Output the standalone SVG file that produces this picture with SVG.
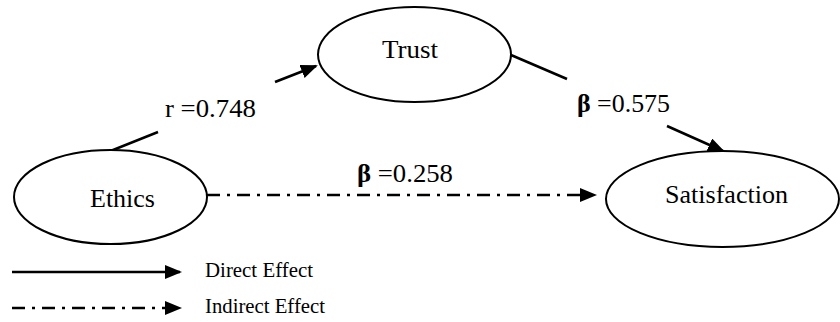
<svg xmlns="http://www.w3.org/2000/svg" width="840" height="322" viewBox="0 0 840 322">
<style>
.node{fill:#fff;stroke:#000;stroke-width:2}
.lbl{font-family:"Liberation Serif","Times New Roman",serif;font-size:25px;fill:#000}
.leg{font-family:"Liberation Serif","Times New Roman",serif;font-size:20px;fill:#000}
.ln{stroke:#000;stroke-width:2.5;fill:none}
.dd{stroke-dasharray:13 7 3 7}
</style>
<defs>
<marker id="ah" markerUnits="userSpaceOnUse" viewBox="0 0 17 14" refX="15" refY="7" markerWidth="17" markerHeight="14" orient="auto">
<path d="M0,0 L17,7 L0,14 z" fill="#000"/>
</marker>
</defs>
<rect width="840" height="322" fill="#fff"/>
<g id="connectors">
<line class="ln" x1="108" y1="152" x2="158" y2="132"/>
<line class="ln" x1="275" y1="82" x2="316" y2="66" marker-end="url(#ah)"/>
<line class="ln" x1="511" y1="55" x2="567" y2="79"/>
<line class="ln" x1="667" y1="126" x2="723" y2="151" marker-end="url(#ah)"/>
<line class="ln dd" x1="207" y1="195" x2="595" y2="195" marker-end="url(#ah)"/>
<text class="lbl" font-family="Liberation Serif, serif" x="165" y="117" textLength="91" lengthAdjust="spacingAndGlyphs">r =0.748</text>
<text class="lbl" font-family="Liberation Serif, serif" x="577" y="112" textLength="93" lengthAdjust="spacingAndGlyphs"><tspan font-weight="bold">β</tspan> =0.575</text>
<text class="lbl" font-family="Liberation Serif, serif" x="357" y="182" textLength="96" lengthAdjust="spacingAndGlyphs"><tspan font-weight="bold">β</tspan> =0.258</text>
</g>
<g id="trust">
<ellipse class="node" cx="414.5" cy="54.5" rx="96.5" ry="47.5"/>
<text class="lbl" font-family="Liberation Serif, serif" x="382" y="58" textLength="56" lengthAdjust="spacingAndGlyphs">Trust</text>
</g>
<g id="ethics">
<ellipse class="node" cx="110.5" cy="197" rx="96.5" ry="47"/>
<text class="lbl" font-family="Liberation Serif, serif" x="90" y="207" textLength="65" lengthAdjust="spacingAndGlyphs">Ethics</text>
</g>
<g id="satisfaction">
<ellipse class="node" cx="722.5" cy="199" rx="116.5" ry="48"/>
<text class="lbl" font-family="Liberation Serif, serif" x="665" y="203" textLength="123" lengthAdjust="spacingAndGlyphs">Satisfaction</text>
</g>
<g id="legend">
<line class="ln" x1="12" y1="272" x2="180" y2="272" marker-end="url(#ah)"/>
<text class="leg" font-family="Liberation Serif, serif" x="205" y="277" textLength="108" lengthAdjust="spacingAndGlyphs">Direct Effect</text>
<line class="ln dd" x1="12" y1="308" x2="180" y2="308" marker-end="url(#ah)"/>
<text class="leg" font-family="Liberation Serif, serif" x="205" y="313" textLength="120" lengthAdjust="spacingAndGlyphs">Indirect Effect</text>
</g>
</svg>
